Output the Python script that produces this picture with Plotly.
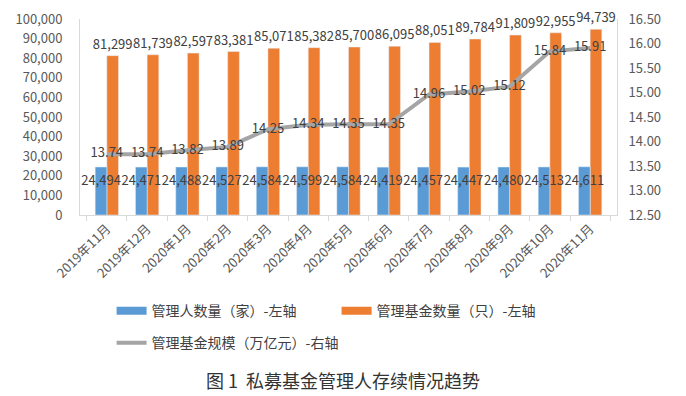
import plotly.graph_objects as go

months = ["2019年11月", "2019年12月", "2020年1月", "2020年2月", "2020年3月", "2020年4月",
          "2020年5月", "2020年6月", "2020年7月", "2020年8月", "2020年9月", "2020年10月", "2020年11月"]
managers = [24494, 24471, 24488, 24527, 24584, 24599, 24584, 24419, 24457, 24447, 24480, 24513, 24611]
funds = [81299, 81739, 82597, 83381, 85071, 85382, 85700, 86095, 88051, 89784, 91809, 92955, 94739]
scale = [13.74, 13.74, 13.82, 13.89, 14.25, 14.34, 14.35, 14.35, 14.96, 15.02, 15.12, 15.84, 15.91]

name_mgr = "管理人数量（家）-左轴"
name_fund = "管理基金数量（只）-左轴"
name_scale = "管理基金规模（万亿元）-右轴"

BLUE = "#5B9BD5"
ORANGE = "#ED7D31"
GRAY = "#A5A5A5"
FONT = "Noto Sans CJK SC"
TXT = "#404040"
AX = "#D9D9D9"

fig = go.Figure()
# orange drawn first so that the blue labels sit on top of it
fig.add_trace(go.Bar(
    x=months, y=funds, name=name_fund, marker_color=ORANGE, showlegend=False,
    width=0.29, offset=0,
    text=[f"{v:,}" for v in funds], textposition="outside",
    textangle=0, constraintext="none", textfont=dict(family=FONT, size=13, color=TXT),
    cliponaxis=False,
))
fig.add_trace(go.Bar(
    x=months, y=managers, name=name_mgr, marker_color=BLUE, showlegend=False,
    width=0.29, offset=-0.29,
    text=[f"{v:,}" for v in managers], textposition="inside", insidetextanchor="end",
    textangle=0, constraintext="none", textfont=dict(family=FONT, size=13, color=TXT),
    cliponaxis=False,
))
fig.add_trace(go.Scatter(
    x=months, y=scale, name=name_scale, yaxis="y2", mode="lines+text",
    line=dict(color=GRAY, width=4), showlegend=False,
    text=[f"{v:.2f}" for v in scale], textposition="middle center",
    textfont=dict(family=FONT, size=13, color=TXT), cliponaxis=False,
))
# legend entries
fig.add_trace(go.Scatter(x=[None], y=[None], mode="lines", name=name_mgr,
                         line=dict(color=BLUE, width=8), legend="legend"))
fig.add_trace(go.Scatter(x=[None], y=[None], mode="lines", name=name_fund,
                         line=dict(color=ORANGE, width=8), legend="legend"))
fig.add_trace(go.Scatter(x=[None], y=[None], mode="lines", name=name_scale,
                         line=dict(color=GRAY, width=4), legend="legend2", yaxis="y2"))

fig.update_layout(
    width=686, height=396,
    margin=dict(l=72, r=77, t=11, b=189, autoexpand=False),
    paper_bgcolor="white", plot_bgcolor="white",
    font=dict(family=FONT, size=13, color="#595959"),
    barmode="overlay",
    xaxis=dict(tickangle=-45, showline=True, linecolor=AX, linewidth=1,
               ticks="outside", tickson="boundaries", ticklen=5, tickcolor=AX,
               tickfont=dict(size=13, color="#595959"), showgrid=False, automargin=False),
    yaxis=dict(range=[0, 100000], dtick=10000, tickformat=",", showgrid=False,
               showline=True, linecolor=AX, ticks="", ticklabelstandoff=14,
               ticklabeloverflow="allow",
               tickfont=dict(size=13, color="#595959"), zeroline=False, automargin=False),
    yaxis2=dict(range=[12.5, 16.5], dtick=0.5, tickformat=".2f", overlaying="y", side="right",
                showgrid=False, showline=True, linecolor=AX, ticks="", ticklabelstandoff=8,
                ticklabeloverflow="allow",
                tickfont=dict(size=13, color="#595959"), zeroline=False, automargin=False),
    legend=dict(orientation="h", xref="container", yref="container",
                x=0.151, y=0.275, xanchor="left", yanchor="top",
                entrywidth=180, entrywidthmode="pixels",
                font=dict(size=14, color="#404040"), bgcolor="rgba(0,0,0,0)"),
    legend2=dict(orientation="h", xref="container", yref="container",
                 x=0.151, y=0.194, xanchor="left", yanchor="top",
                 font=dict(size=14, color="#404040"), bgcolor="rgba(0,0,0,0)"),
    annotations=[dict(text="图 1  私募基金管理人存续情况趋势", xref="paper", yref="paper",
                      x=0.49, y=-0.843, xanchor="center", yanchor="middle", showarrow=False,
                      font=dict(family=FONT, size=18, color="#333333"))],
)

fig.write_html("out.html")
